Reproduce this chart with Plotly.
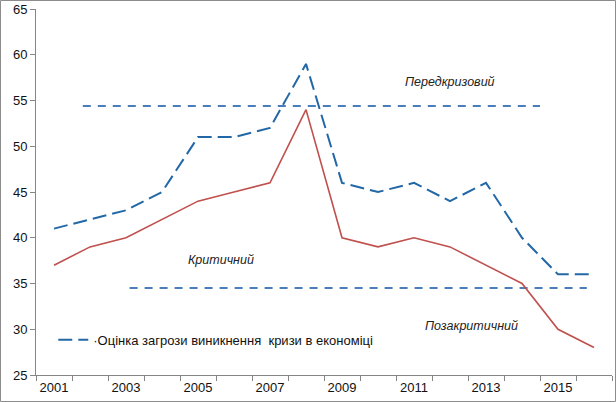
import plotly.graph_objects as go

years = list(range(2001, 2017))
threat = [41, 42, 43, 45, 51, 51, 52, 59, 46, 45, 46, 44, 46, 40, 36, 36]
crisis = [37, 39, 40, 42, 44, 45, 46, 54, 40, 39, 40, 39, 37, 35, 30, 28]

# threshold levels and how far the dashed guides run
upper_level = 54.4
upper_span = [2001.8, 2014.5]
lower_level = 34.5
lower_span = [2003.1, 2015.8]

tick_years = [2001, 2003, 2005, 2007, 2009, 2011, 2013, 2015]
legend_name = "·Оцінка загрози виникнення  кризи в економіці"

zones = [
    ("Передкризовий", 2012.0, 57.0),
    ("Критичний", 2005.65, 37.6),
    ("Позакритичний", 2012.6, 30.4),
]

fig = go.Figure()

fig.add_trace(go.Scatter(x=upper_span, y=[upper_level, upper_level], mode="lines",
                         line=dict(color="#4a7ebb", width=2, dash="8px,7px"),
                         showlegend=False, hoverinfo="skip"))
fig.add_trace(go.Scatter(x=lower_span, y=[lower_level, lower_level], mode="lines",
                         line=dict(color="#4a7ebb", width=2, dash="8px,7px"),
                         showlegend=False, hoverinfo="skip"))
fig.add_trace(go.Scatter(x=years, y=crisis, mode="lines",
                         line=dict(color="#c0504d", width=1.6),
                         showlegend=False))
fig.add_trace(go.Scatter(x=years, y=threat, mode="lines", name=legend_name,
                         line=dict(color="#2268a6", width=2, dash="14px,6px")))

for label, x, y in zones:
    fig.add_annotation(x=x, y=y, text="<i>" + label + "</i>", showarrow=False,
                       font=dict(size=12.5, color="#222222"))

fig.update_xaxes(range=[2000.5, 2016.5], tickvals=tick_years, ticks="",
                 showline=True, linecolor="#868686", linewidth=1,
                 showgrid=False, zeroline=False, automargin=False,
                 tickfont=dict(size=13, color="#111111"),
                 minor=dict(ticks="outside", tick0=2000.5, dtick=1,
                            ticklen=5, tickcolor="#868686", showgrid=False))
fig.update_yaxes(range=[25, 65], dtick=5, ticks="outside", ticklen=5,
                 tickcolor="#868686", showline=True, linecolor="#868686",
                 linewidth=1, showgrid=False, zeroline=False, automargin=False,
                 tickfont=dict(size=13, color="#111111"))

# thin frame around the picture
fig.add_shape(type="rect", xref="paper", yref="paper",
              x0=(0.5 - 36) / 576, x1=(615.5 - 36) / 576,
              y0=-(26.5) / 366, y1=1 + 8.5 / 366,
              line=dict(color="#8c8c8c", width=1))

fig.update_layout(width=616, height=402,
                  margin=dict(l=36, r=4, t=9, b=27),
                  plot_bgcolor="white", paper_bgcolor="white",
                  font=dict(family="Liberation Sans, Arial, sans-serif", color="#111111"),
                  legend=dict(x=0.03, y=0.096, yanchor="middle", xanchor="left",
                              bgcolor="rgba(0,0,0,0)", font=dict(size=13),
                              itemwidth=30))

fig.write_html("out.html", config={"displayModeBar": False},
               post_script="document.body.style.margin='0';")
